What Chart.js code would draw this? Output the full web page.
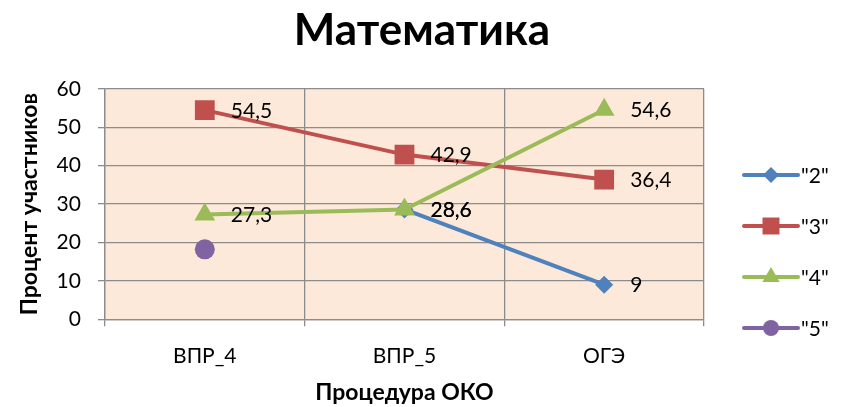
<!DOCTYPE html>
<html>
<head>
<meta charset="utf-8">
<script src="https://cdn.jsdelivr.net/npm/chart.js@4"></script>
<style>
  html, body { margin: 0; padding: 0; background: #fff; }
  #wrap { width: 850px; height: 407px; }
</style>
</head>
<body>
<div id="wrap"><canvas id="grafico"></canvas></div>
<script>
// данные диаграммы
const zagolovok = 'Математика';
const procedury = ['ВПР_4', 'ВПР_5', 'ОГЭ'];
const otsenka2 = [null, 28.6, 9];
const otsenka3 = [54.5, 42.9, 36.4];
const otsenka4 = [27.3, 28.6, 54.6];
const otsenka5 = [18.2, null, null];
const nazvaniya = ['"2"', '"3"', '"4"', '"5"'];
const yTiki = [0, 10, 20, 30, 40, 50, 60];

const cveta = {
    sinij: '#4F81BD',
    krasnyj: '#C0504D',
    zelenyj: '#9BBB59',
    fioletovyj: '#8064A2',
    fon: '#FDE9D9',
    setka: '#8C8C8C'
};
const shrift = 'Lato, "Open Sans", sans-serif';

// заливка области построения
const fonOblasti = {
    id: 'fonOblasti',
    beforeDraw(chart) {
        const { ctx, chartArea: a } = chart;
        ctx.save();
        ctx.fillStyle = cveta.fon;
        ctx.fillRect(a.left, a.top, a.right - a.left, a.bottom - a.top);
        ctx.restore();
    }
};

// заголовок по центру всего рисунка (как в Excel, с учётом легенды)
const zagolovokPlugin = {
    id: 'zagolovokPlugin',
    afterDraw(chart) {
        const ctx = chart.ctx;
        ctx.save();
        ctx.font = 'bold 44px ' + shrift;
        ctx.fillStyle = '#000';
        ctx.textAlign = 'center';
        ctx.textBaseline = 'alphabetic';
        ctx.fillText(zagolovok, chart.width / 2 - 3, 45);
        ctx.restore();
    }
};

// подписи значений справа от точек
const podpisi = {
    id: 'podpisi',
    afterDatasetsDraw(chart) {
        const ctx = chart.ctx;
        ctx.save();
        ctx.font = '21px ' + shrift;
        ctx.fillStyle = '#000';
        ctx.textAlign = 'left';
        ctx.textBaseline = 'middle';
        chart.data.datasets.forEach((ds, i) => {
            if (!ds.podpis) return;
            const meta = chart.getDatasetMeta(i);
            meta.data.forEach((pt, j) => {
                const v = ds.data[j];
                if (v === null || v === undefined) return;
                ctx.fillText(String(v).replace('.', ','), pt.x + 26, pt.y + 1);
            });
        });
        ctx.restore();
    }
};

function risovatMarker(ctx, stil, r, x, y) {
    ctx.beginPath();
    if (stil === 'rectRot') {
        ctx.moveTo(x - r, y); ctx.lineTo(x, y - r); ctx.lineTo(x + r, y); ctx.lineTo(x, y + r);
    } else if (stil === 'rect') {
        const s = r * Math.SQRT1_2;
        ctx.rect(x - s, y - s, 2 * s, 2 * s);
    } else if (stil === 'triangle') {
        ctx.moveTo(x, y - r);
        ctx.lineTo(x + r * Math.sin(2 * Math.PI / 3), y - r * Math.cos(2 * Math.PI / 3));
        ctx.lineTo(x + r * Math.sin(4 * Math.PI / 3), y - r * Math.cos(4 * Math.PI / 3));
    } else {
        ctx.arc(x, y, r, 0, Math.PI * 2);
    }
    ctx.closePath();
    ctx.fill();
}

// легенда: линия с маркером, как в Excel
const legenda = {
    id: 'legenda',
    afterDraw(chart) {
        const { ctx, chartArea: a } = chart;
        const x0 = a.right + 40;
        const y0 = a.top + 86;
        ctx.save();
        chart.data.datasets.forEach((ds, i) => {
            const y = y0 + i * 51;
            ctx.strokeStyle = ds.borderColor;
            ctx.fillStyle = ds.borderColor;
            ctx.lineWidth = 4;
            ctx.lineCap = 'round';
            ctx.beginPath();
            ctx.moveTo(x0, y);
            ctx.lineTo(x0 + 54, y);
            ctx.stroke();
            risovatMarker(ctx, ds.pointStyle, ds.legendRadius, x0 + 27, y);
            ctx.fillStyle = '#000';
            ctx.font = '21px ' + shrift;
            ctx.textAlign = 'left';
            ctx.textBaseline = 'middle';
            ctx.fillText(ds.label, x0 + 57, y + 1);
        });
        ctx.restore();
    }
};

function seriya(label, data, cvet, stil, r, rLeg, poryadok, podpis) {
    return {
        label: label,
        data: data,
        borderColor: cvet,
        backgroundColor: cvet,
        borderWidth: 4,
        pointStyle: stil,
        pointRadius: r,
        pointHoverRadius: r,
        pointBackgroundColor: cvet,
        pointBorderColor: cvet,
        pointBorderWidth: 0,
        legendRadius: rLeg,
        order: poryadok,
        podpis: podpis,
        tension: 0
    };
}

new Chart(document.getElementById('grafico'), {
    type: 'line',
    data: {
        labels: procedury,
        datasets: [
            seriya(nazvaniya[0], otsenka2, cveta.sinij, 'rectRot', 9, 8, 4, true),
            seriya(nazvaniya[1], otsenka3, cveta.krasnyj, 'rect', 14, 12, 3, true),
            seriya(nazvaniya[2], otsenka4, cveta.zelenyj, 'triangle', 12, 10, 2, true),
            seriya(nazvaniya[3], otsenka5, cveta.fioletovyj, 'circle', 10, 8, 1, false)
        ]
    },
    options: {
        responsive: true,
        maintainAspectRatio: false,
        animation: false,
        layout: { padding: { left: 16, right: 146, top: 89, bottom: 1 } },
        plugins: {
            legend: { display: false },
            tooltip: { enabled: false },
            title: { display: false }
        },
        scales: {
            x: {
                offset: true,
                grid: {
                    offset: true,
                    color: cveta.setka,
                    lineWidth: 1.3,
                    tickLength: 7
                },
                border: { color: cveta.setka, width: 1.3 },
                ticks: {
                    color: '#000',
                    font: { family: shrift, size: 21 },
                    padding: 17,
                    maxRotation: 0
                },
                title: {
                    display: true,
                    text: 'Процедура ОКО',
                    color: '#000',
                    font: { family: shrift, size: 23, weight: 'bold' },
                    padding: { top: -7, bottom: 0 }
                }
            },
            y: {
                min: 0,
                max: 60,
                afterBuildTicks: (axis) => {
                    axis.ticks = yTiki.map(v => ({ value: v }));
                },
                grid: {
                    color: cveta.setka,
                    lineWidth: 1.3,
                    tickLength: 7
                },
                border: { color: cveta.setka, width: 1.3 },
                ticks: {
                    color: '#000',
                    font: { family: shrift, size: 21 },
                    padding: 17
                },
                title: {
                    display: true,
                    text: 'Процент участников',
                    color: '#000',
                    font: { family: shrift, size: 23, weight: 'bold' },
                    padding: { top: 0, bottom: -4 }
                }
            }
        }
    },
    plugins: [fonOblasti, zagolovokPlugin, podpisi, legenda]
});
</script>
</body>
</html>
